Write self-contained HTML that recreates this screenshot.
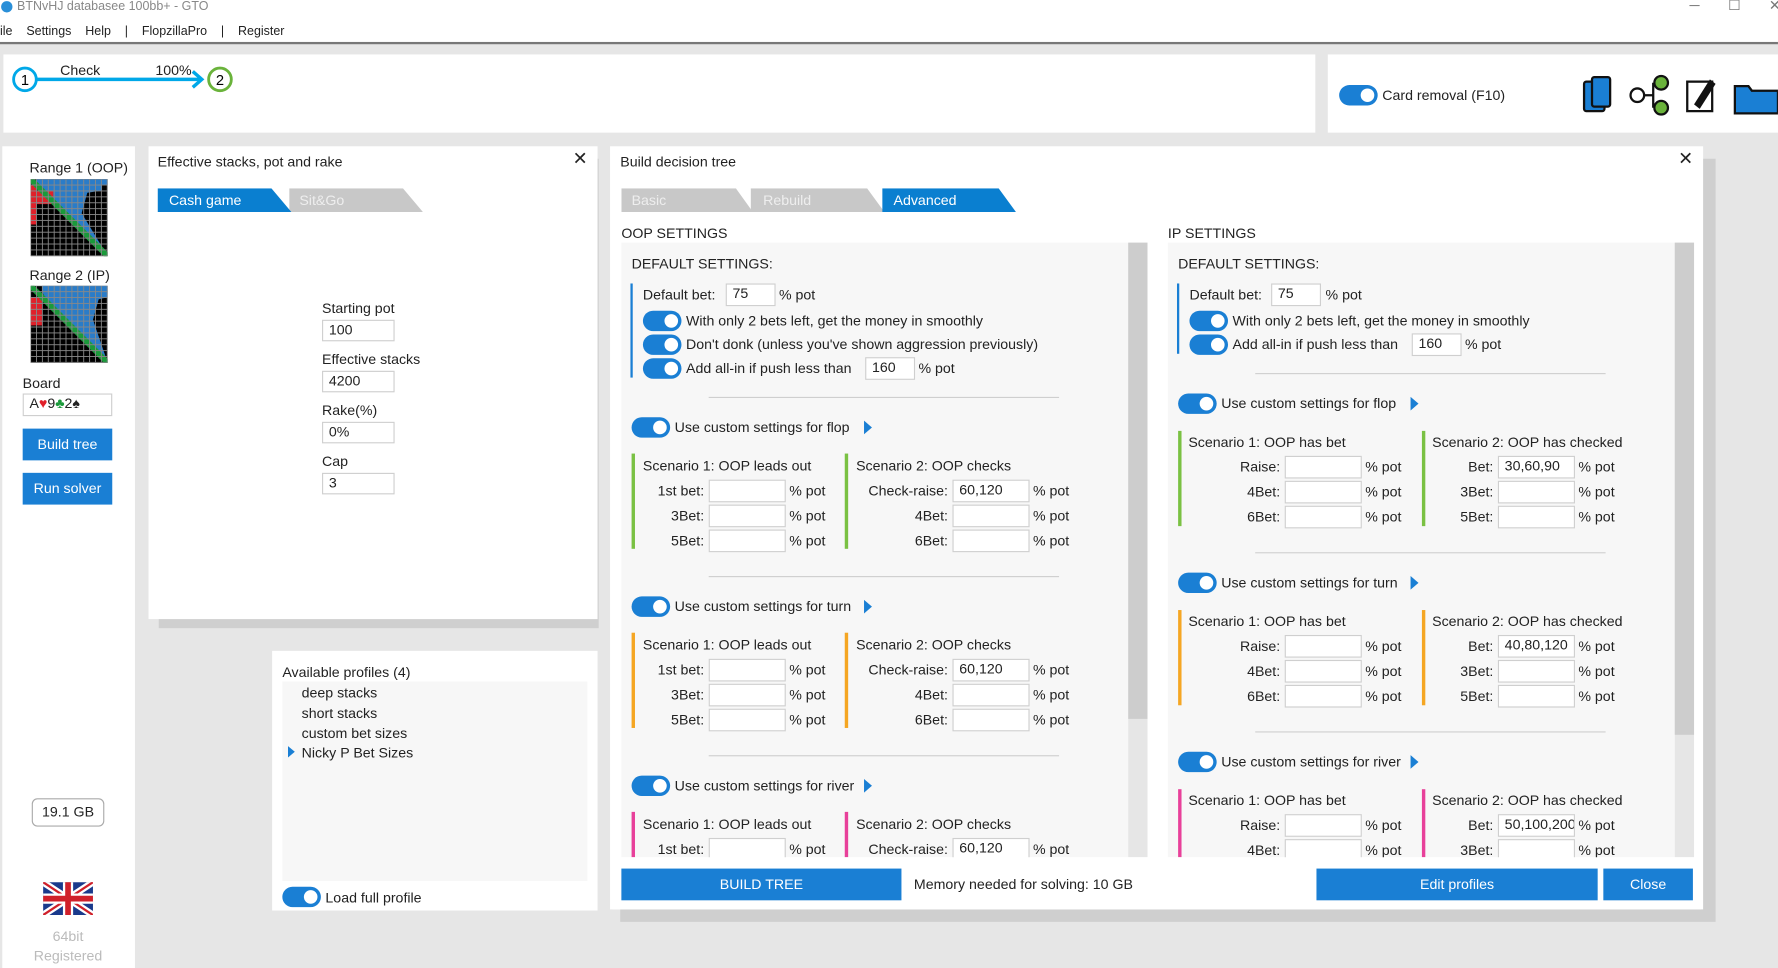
<!DOCTYPE html><html><head><meta charset="utf-8"><style>
body{margin:0;width:1778px;height:968px;overflow:hidden;background:#e6e6e6}
#w{position:absolute;left:0;top:0;width:1568px;height:854px;transform:scale(1.1339);transform-origin:0 0;background:#e6e6e6;font-family:"Liberation Sans",sans-serif;font-size:12.5px;color:#222}
#w div,#w span{position:absolute}
.t{white-space:nowrap;line-height:16px}
.in{height:19px;border:1px solid #cfcfcf;background:#fff;box-sizing:border-box;line-height:17px;padding-left:5px;white-space:nowrap;overflow:hidden}
.p{background:#fff}
.tg{width:34px;height:18px;border-radius:9px;background:#1a7fd4}
.tg::after{content:"";position:absolute;right:3px;top:3px;width:12px;height:12px;border-radius:6px;background:#fff}
.sep{height:1px;background:#cfcfcf}
.btn{background:#1a7fd4;color:#fff;text-align:center;line-height:28px}
.tri{width:0;height:0;border-top:6px solid transparent;border-bottom:6px solid transparent;border-left:7px solid #1a7fd4}
</style></head><body><div id="w">
<div class="p" style="left:0;top:0;width:1568px;height:37px"></div>
<div style="left:0;top:37px;width:1568px;height:2px;background:#777"></div>
<div style="left:1px;top:1px;width:10px;height:10px;border-radius:5px;background:#2a8fd8"></div>
<div class="t" style="left:15px;top:-2px;color:#888;font-size:11px">BTNvHJ databasee 100bb+ - GTO</div>
<div class="t" style="left:1490px;top:-3px;color:#777">─</div><div class="t" style="left:1524px;top:-3px;color:#777">☐</div><div class="t" style="left:1560px;top:-3px;color:#777">✕</div>
<div class="t" style="left:0;top:20px;font-size:11px">ile&nbsp;&nbsp;&nbsp;&nbsp;Settings&nbsp;&nbsp;&nbsp;&nbsp;Help&nbsp;&nbsp;&nbsp;&nbsp;|&nbsp;&nbsp;&nbsp;&nbsp;FlopzillaPro&nbsp;&nbsp;&nbsp;&nbsp;|&nbsp;&nbsp;&nbsp;&nbsp;Register</div>
<div class="p" style="left:3px;top:48px;width:1157px;height:69px"></div>
<div class="p" style="left:1171px;top:48px;width:397px;height:69px"></div>
<svg style="position:absolute;left:0;top:50px" width="220" height="40"><line x1="32" y1="20" x2="178" y2="20" stroke="#00a8e8" stroke-width="3"/><polyline points="170,13 178,20 170,27" fill="none" stroke="#00a8e8" stroke-width="3"/><circle cx="22" cy="20" r="10" fill="#fff" stroke="#00a8e8" stroke-width="2.5"/><circle cx="194" cy="20" r="10" fill="#fff" stroke="#6ab33b" stroke-width="2.5"/><text x="22" y="25" text-anchor="middle" font-size="13" font-family="Liberation Sans">1</text><text x="194" y="25" text-anchor="middle" font-size="13" font-family="Liberation Sans">2</text></svg>
<div class="t" style="left:53px;top:54px">Check</div><div class="t" style="left:137px;top:54px">100%</div>
<div class="tg" style="left:1181px;top:75px"></div><div class="t" style="left:1219px;top:76px">Card removal (F10)</div>
<svg style="position:absolute;left:1394px;top:64px" width="174" height="40"><rect x="3" y="8" width="18" height="26" rx="2" fill="#1a7fd4" stroke="#111" stroke-width="2"/><rect x="10" y="4" width="16" height="26" rx="2" fill="#1a7fd4" stroke="#111" stroke-width="2"/><circle cx="50" cy="20" r="6" fill="#fff" stroke="#111" stroke-width="2"/><circle cx="71" cy="9" r="6" fill="#6ab33b" stroke="#111" stroke-width="2"/><circle cx="71" cy="31" r="6" fill="#6ab33b" stroke="#111" stroke-width="2"/><path d="M56 20h8M64 9v22" stroke="#111" stroke-width="2"/><rect x="94" y="8" width="22" height="26" fill="#fff" stroke="#111" stroke-width="2"/><path d="M100 28l14-22 5 4-14 22z" fill="#111"/><path d="M136 12h12l3 4h23v20h-38z" fill="#1a7fd4" stroke="#111" stroke-width="2"/></svg>
<div class="p" style="left:2px;top:129px;width:117px;height:725px"></div>
<div class="t" style="left:26px;top:140px">Range 1 (OOP)</div>
<div class="t" style="left:26px;top:235px">Range 2 (IP)</div>
<svg style="position:absolute;left:27px;top:158px" width="68" height="68"><defs><pattern id="g" width="5.2" height="5.2" patternUnits="userSpaceOnUse"><rect width="5.2" height="5.2" fill="none" stroke="#888" stroke-width="0.8"/></pattern></defs><rect width="68" height="68" fill="#000"/><polygon points="5,0 68,0 68,5 63,5 63,10 50,12 45,30 68,68 20,20 5,5" fill="#2a7cc8"/><rect x="0" y="5" width="5" height="35" fill="#e0202a"/><rect x="5" y="10" width="15" height="12" fill="#e0202a"/><path d="M0 0L68 68" stroke="#1a9a3a" stroke-width="5"/><rect width="68" height="68" fill="url(#g)"/></svg>
<svg style="position:absolute;left:27px;top:252px" width="68" height="68"><rect width="68" height="68" fill="#000"/><polygon points="10,0 68,0 68,10 60,12 55,30 68,68 15,15 10,5" fill="#2a7cc8"/><rect x="0" y="10" width="10" height="25" fill="#e0202a"/><path d="M0 0L68 68" stroke="#1a9a3a" stroke-width="5"/><rect width="68" height="68" fill="url(#g)"/></svg>
<div class="t" style="left:20px;top:330px">Board</div>
<div class="in" style="left:20px;top:347px;width:79px;height:20px">A<span style="position:static;color:#e0202a">♥</span>9<span style="position:static;color:#1a9a3a">♣</span>2♠</div>
<div class="btn" style="left:20px;top:378px;width:79px;height:28px">Build tree</div>
<div class="btn" style="left:20px;top:417px;width:79px;height:28px">Run solver</div>
<div class="t" style="left:28px;top:704px;width:62px;height:23px;border:1px solid #aaa;border-radius:5px;text-align:center;line-height:23px">19.1 GB</div>
<svg style="position:absolute;left:38px;top:778px" width="44" height="29"><rect width="44" height="29" fill="#1a3a8c"/><path d="M0 0L44 29M44 0L0 29" stroke="#fff" stroke-width="6"/><path d="M0 0L44 29M44 0L0 29" stroke="#d0202a" stroke-width="2"/><path d="M22 0v29M0 14.5h44" stroke="#fff" stroke-width="9"/><path d="M22 0v29M0 14.5h44" stroke="#d0202a" stroke-width="5"/></svg>
<div class="t" style="left:0;width:120px;text-align:center;top:818px;color:#bbb">64bit</div>
<div class="t" style="left:0;width:120px;text-align:center;top:835px;color:#bbb">Registered</div>
<div style="left:140px;top:140px;width:388px;height:414px;background:#cfcfcf"></div>
<div class="p" style="left:131px;top:129px;width:396px;height:417px"></div>
<div class="t" style="left:139px;top:135px">Effective stacks, pot and rake</div>
<div class="t" style="left:505px;top:133px;font-size:16px">✕</div>
<div style="left:255px;top:166px;width:118px;height:21px;background:#c8c8c8;clip-path:polygon(0 0,85% 0,100% 100%,0 100%)"></div>
<div style="left:139px;top:166px;width:118px;height:21px;background:#0a7fd0;clip-path:polygon(0 0,85% 0,100% 100%,0 100%)"></div>
<div class="t" style="left:149px;top:169px;color:#fff">Cash game</div><div class="t" style="left:264px;top:169px;color:#eee">Sit&amp;Go</div>
<div class="t" style="left:284px;top:264px">Starting pot</div><div class="in" style="left:284px;top:282px;width:64px">100</div>
<div class="t" style="left:284px;top:309px">Effective stacks</div><div class="in" style="left:284px;top:327px;width:64px">4200</div>
<div class="t" style="left:284px;top:354px">Rake(%)</div><div class="in" style="left:284px;top:372px;width:64px">0%</div>
<div class="t" style="left:284px;top:399px">Cap</div><div class="in" style="left:284px;top:417px;width:64px">3</div>
<div class="p" style="left:240px;top:574px;width:287px;height:229px"></div>
<div class="t" style="left:249px;top:585px">Available profiles (4)</div>
<div style="left:249px;top:601px;width:269px;height:176px;background:#f7f7f7"></div>
<div class="t" style="left:266px;top:603px">deep stacks</div><div class="t" style="left:266px;top:621px">short stacks</div><div class="t" style="left:266px;top:639px">custom bet sizes</div><div class="t" style="left:266px;top:656px">Nicky P Bet Sizes</div>
<div class="tri" style="left:254px;top:658px;border-top-width:5px;border-bottom-width:5px;border-left-width:6px"></div>
<div class="tg" style="left:249px;top:782px"></div><div class="t" style="left:287px;top:784px">Load full profile</div>
<div style="left:547px;top:140px;width:966px;height:673px;background:#cfcfcf"></div>
<div class="p" style="left:538px;top:129px;width:964px;height:673px"></div>
<div class="t" style="left:547px;top:135px">Build decision tree</div>
<div class="t" style="left:1480px;top:133px;font-size:16px">✕</div>
<div style="left:548px;top:166px;width:116px;height:21px;background:#c8c8c8;clip-path:polygon(0 0,87% 0,100% 100%,0 100%)"></div>
<div style="left:662px;top:166px;width:118px;height:21px;background:#c8c8c8;clip-path:polygon(0 0,87% 0,100% 100%,0 100%)"></div>
<div style="left:778px;top:166px;width:118px;height:21px;background:#0a7fd0;clip-path:polygon(0 0,87% 0,100% 100%,0 100%)"></div>
<div class="t" style="left:557px;top:169px;color:#eee">Basic</div><div class="t" style="left:673px;top:169px;color:#eee">Rebuild</div><div class="t" style="left:788px;top:169px;color:#fff">Advanced</div>
<div class="t" style="left:548px;top:198px">OOP SETTINGS</div><div class="t" style="left:1030px;top:198px">IP SETTINGS</div>
<div style="left:548px;top:214px;width:447px;height:542px;background:#f7f7f7"></div>
<div style="left:995px;top:214px;width:17px;height:542px;background:#e6e6e6"></div><div style="left:995px;top:214px;width:17px;height:420px;background:#cdcdcd"></div>
<div style="left:1030px;top:214px;width:447px;height:542px;background:#f7f7f7"></div>
<div style="left:1477px;top:214px;width:17px;height:542px;background:#e6e6e6"></div><div style="left:1477px;top:214px;width:17px;height:434px;background:#cdcdcd"></div>
<div class="t" style="left:557px;top:225px">DEFAULT SETTINGS:</div>
<div style="left:556px;top:250px;width:2px;height:83px;background:#1a7fd4"></div>
<div class="t" style="left:567px;top:252px">Default bet:</div><div class="in" style="left:640px;top:250px;width:44px;height:20px">75</div><div class="t" style="left:687px;top:252px">% pot</div>
<div class="tg" style="left:567px;top:274px"></div><div class="t" style="left:605px;top:275px">With only 2 bets left, get the money in smoothly</div>
<div class="tg" style="left:567px;top:295px"></div><div class="t" style="left:605px;top:296px">Don't donk (unless you've shown aggression previously)</div>
<div class="tg" style="left:567px;top:316px"></div><div class="t" style="left:605px;top:317px">Add all-in if push less than</div><div class="in" style="left:763px;top:315px;width:44px;height:20px">160</div><div class="t" style="left:810px;top:317px">% pot</div>
<div class="sep" style="left:625px;top:350px;width:309px"></div>
<div class="sep" style="left:625px;top:508px;width:309px"></div>
<div class="sep" style="left:625px;top:666px;width:309px"></div>
<div class="t" style="left:1039px;top:225px">DEFAULT SETTINGS:</div>
<div style="left:1038px;top:250px;width:2px;height:62px;background:#1a7fd4"></div>
<div class="t" style="left:1049px;top:252px">Default bet:</div><div class="in" style="left:1121px;top:250px;width:44px;height:20px">75</div><div class="t" style="left:1169px;top:252px">% pot</div>
<div class="tg" style="left:1049px;top:274px"></div><div class="t" style="left:1087px;top:275px">With only 2 bets left, get the money in smoothly</div>
<div class="tg" style="left:1049px;top:295px"></div><div class="t" style="left:1087px;top:296px">Add all-in if push less than</div><div class="in" style="left:1245px;top:294px;width:44px;height:20px">160</div><div class="t" style="left:1292px;top:296px">% pot</div>
<div class="sep" style="left:1107px;top:329px;width:309px"></div>
<div class="sep" style="left:1107px;top:487px;width:309px"></div>
<div class="sep" style="left:1107px;top:645px;width:309px"></div>
<div id="gen"></div>
<div class="p" style="left:540px;top:756px;width:960px;height:46px"></div>
<div class="btn" style="left:548px;top:766px;width:247px;height:28px">BUILD TREE</div>
<div class="t" style="left:806px;top:772px">Memory needed for solving: 10 GB</div>
<div class="btn" style="left:1161px;top:766px;width:248px;height:28px">Edit profiles</div>
<div class="btn" style="left:1414px;top:766px;width:79px;height:28px">Close</div>
</div>
<script>
(function(){
var h='';
function T(x,y,s){h+='<div class="t" style="left:'+x+'px;top:'+(y-8)+'px">'+s+'</div>';}
function R(xe,y,s){h+='<div class="t" style="left:'+(xe-120)+'px;width:120px;text-align:right;top:'+(y-8)+'px">'+s+'</div>';}
function I(x,y,v){h+='<div class="in" style="left:'+x+'px;top:'+(y-10)+'px;width:68px;height:20px">'+(v||'')+'</div>';}
function G(x,y){h+='<div class="tg" style="left:'+x+'px;top:'+(y-9)+'px"></div>';}
function TR(x,y){h+='<div class="tri" style="left:'+x+'px;top:'+(y-6)+'px"></div>';}
function L(x,a,b,c){h+='<div style="left:'+x+'px;top:'+a+'px;width:3px;height:'+(b-a)+'px;background:'+c+'"></div>';}
var st=['flop','turn','river'],cols=['#7ac143','#f5a623','#e8409a'];
var oy=[377,535,693];
for(var k=0;k<3;k++){var y=oy[k];G(557,y);T(595,y,'Use custom settings for '+st[k]);TR(762,y);
var y1=y+23,y2=Math.min(y+107,756);L(557,y1,y2,cols[k]);L(745,y1,y2,cols[k]);
T(567,y+34,'Scenario 1: OOP leads out');T(755,y+34,'Scenario 2: OOP checks');
var ll=['1st bet:','3Bet:','5Bet:'],rl=['Check-raise:','4Bet:','6Bet:'];
for(var i=0;i<3;i++){var ry=y+56+22*i;if(ry>760)break;R(621,ry,ll[i]);I(625,ry);T(696,ry,'% pot');R(836,ry,rl[i]);I(840,ry,i==0?'60,120':'');T(911,ry,'% pot');}}
var iy=[356,514,672],bv=['30,60,90','40,80,120','50,100,200'];
for(var k=0;k<3;k++){var y=iy[k];G(1039,y);T(1077,y,'Use custom settings for '+st[k]);TR(1244,y);
var y1=y+24,y2=Math.min(y+108,756);L(1039,y1,y2,cols[k]);L(1254,y1,y2,cols[k]);
T(1048,y+34,'Scenario 1: OOP has bet');T(1263,y+34,'Scenario 2: OOP has checked');
var ll=['Raise:','4Bet:','6Bet:'],rl=['Bet:','3Bet:','5Bet:'];
for(var i=0;i<3;i++){var ry=y+56+22*i;if(ry>760)break;R(1129,ry,ll[i]);I(1133,ry);T(1204,ry,'% pot');R(1317,ry,rl[i]);I(1321,ry,i==0?bv[k]:'');T(1392,ry,'% pot');}}
document.getElementById('gen').outerHTML=h;
})();
</script>
</body></html>
